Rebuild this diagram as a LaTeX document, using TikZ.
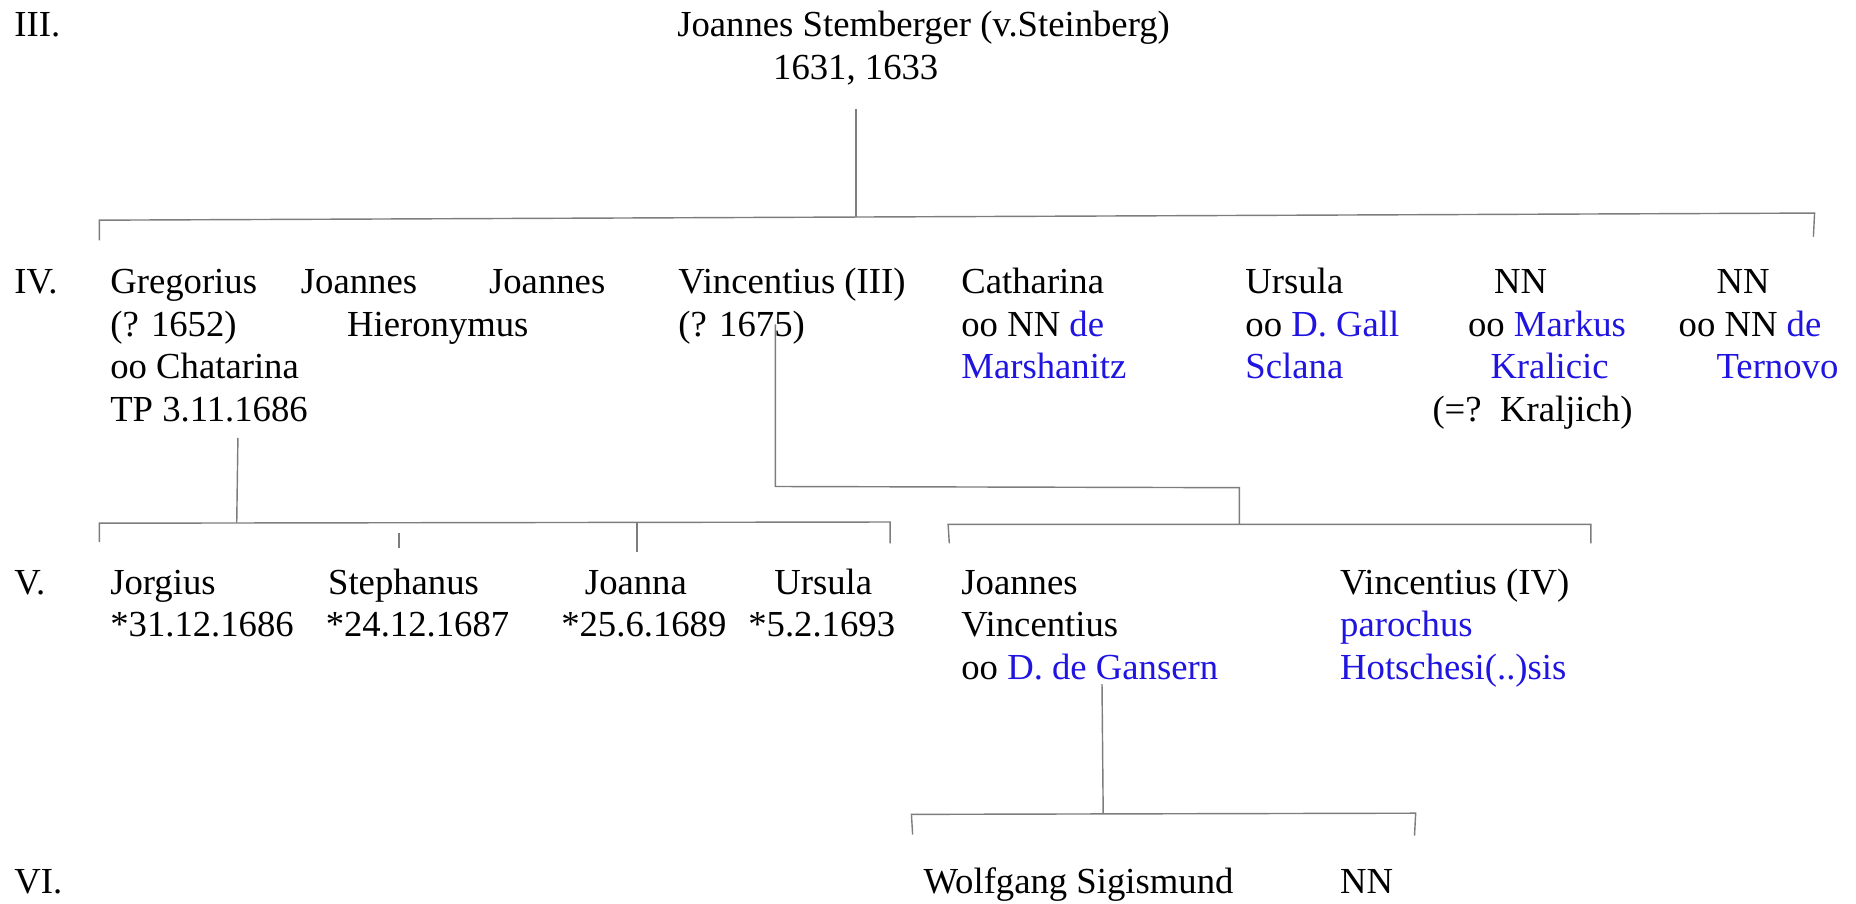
\documentclass[tikz,border=0pt]{standalone}
\usepackage{fontspec}
\setmainfont{Liberation Serif}
\definecolor{lnk}{RGB}{32,20,224}
\definecolor{ln}{RGB}{125,125,125}
\begin{document}
\begin{tikzpicture}[x=1pt,y=-1pt,
  txt/.style={anchor=base west,inner sep=0pt,font=\fontsize{31}{36}\selectfont},
  conn/.style={draw=ln,line width=1.2pt}]
\useasboundingbox (0,0) rectangle (1568,763);
% generation labels
\node[txt] (gIII) at (12,31) {III.};
\node[txt] (gIV) at (12,248) {IV.};
\node[txt] (gV) at (12,502) {V.};
\node[txt] (gVI) at (12,755) {VI.};
% III
\node[txt] (js1) at (572,31) {Joannes Stemberger (v.Steinberg)};
\node[txt] (js2) at (653,67) {1631, 1633};
% IV
\node[txt] (gre1) at (93,248) {Gregorius};
\node[txt] (gre2) at (93,284) {(? 1652)};
\node[txt] (gre3) at (93,320) {oo Chatarina};
\node[txt] (gre4) at (93,356) {TP 3.11.1686};
\node[txt] (jh1) at (254,248) {Joannes};
\node[txt] (jh2) at (293,284) {Hieronymus};
\node[txt] (jo1) at (413,248) {Joannes};
\node[txt] (vin1) at (573,248) {Vincentius (III)};
\node[txt] (vin2) at (573,284) {(? 1675)};
\node[txt] (cat1) at (812,248) {Catharina};
\node[txt] (cat2) at (812,284) {oo NN \textcolor{lnk}{de}};
\node[txt] (cat3) at (812,320) {\textcolor{lnk}{Marshanitz}};
\node[txt] (urs1) at (1052,248) {Ursula};
\node[txt] (urs2) at (1052,284) {oo \textcolor{lnk}{D. Gall}};
\node[txt] (urs3) at (1052,320) {\textcolor{lnk}{Sclana}};
\node[txt] (nna1) at (1262,248) {NN};
\node[txt] (nna2) at (1240,284) {oo \textcolor{lnk}{Markus}};
\node[txt] (nna3) at (1259,320) {\textcolor{lnk}{Kralicic}};
\node[txt] (nna4) at (1210,356) {(=?\ \ Kraljich)};
\node[txt] (nnb1) at (1450,248) {NN};
\node[txt] (nnb2) at (1418,284) {oo NN \textcolor{lnk}{de}};
\node[txt] (nnb3) at (1450,320) {\textcolor{lnk}{Ternovo}};
% V
\node[txt] (jor1) at (93,502) {Jorgius};
\node[txt] (jor2) at (93,538) {*31.12.1686};
\node[txt] (ste1) at (277,502) {Stephanus};
\node[txt] (ste2) at (275,538) {*24.12.1687};
\node[txt] (joa1) at (494,502) {Joanna};
\node[txt] (joa2) at (474,538) {*25.6.1689};
\node[txt] (ur1) at (654,502) {Ursula};
\node[txt] (ur2) at (632,538) {*5.2.1693};
\node[txt] (jv1) at (812,502) {Joannes};
\node[txt] (jv2) at (812,538) {Vincentius};
\node[txt] (jv3) at (812,574) {oo \textcolor{lnk}{D. de Gansern}};
\node[txt] (v41) at (1132,502) {Vincentius (IV)};
\node[txt] (v42) at (1132,538) {\textcolor{lnk}{parochus}};
\node[txt] (v43) at (1132,574) {\textcolor{lnk}{Hotschesi(..)sis}};
% VI
\node[txt] (wol) at (780,755) {Wolfgang Sigismund};
\node[txt] (nnc) at (1132,755) {NN};
% connectors III -> IV
\coordinate (jsd) at (723,92);
\coordinate (b4m) at (723,183.4);
\coordinate (b4l) at (84,186);
\coordinate (b4r) at (1533,180);
\coordinate (b4ld) at (84,203);
\coordinate (b4rd) at (1532,200);
\draw[conn] (jsd) -- (b4m);
\draw[conn] (b4ld) -- (b4l) -- (b4r) -- (b4rd);
% Gregorius -> children
\coordinate (grd) at (201,370);
\coordinate (b5m) at (200,441.6);
\coordinate (b5l) at (84,442);
\coordinate (b5r) at (752,441);
\coordinate (b5ld) at (84,458);
\coordinate (b5rd) at (752,459);
\coordinate (ste0) at (337,450);
\coordinate (ste0d) at (337,463);
\coordinate (joa0) at (538,441.3);
\coordinate (joa0d) at (538,466);
\draw[conn] (grd) -- (b5m);
\draw[conn] (b5ld) -- (b5l) -- (b5r) -- (b5rd);
\draw[conn] (ste0) -- (ste0d);
\draw[conn] (joa0) -- (joa0d);
% Vincentius (III) -> children
\coordinate (vid) at (655,274);
\coordinate (vic1) at (655,411);
\coordinate (vic2) at (1047,412);
\coordinate (b6m) at (1047,443);
\coordinate (b6l) at (801,443);
\coordinate (b6r) at (1344,443);
\coordinate (b6ld) at (802,459);
\coordinate (b6rd) at (1344,459);
\draw[conn] (vid) -- (vic1) -- (vic2) -- (b6m);
\draw[conn] (b6ld) -- (b6l) -- (b6r) -- (b6rd);
% Joannes Vincentius -> children
\coordinate (jvd) at (931,578);
\coordinate (b7m) at (932,687.5);
\coordinate (b7l) at (770,688);
\coordinate (b7r) at (1196,687);
\coordinate (b7ld) at (771,705);
\coordinate (b7rd) at (1195,706);
\draw[conn] (jvd) -- (b7m);
\draw[conn] (b7ld) -- (b7l) -- (b7r) -- (b7rd);
\end{tikzpicture}
\end{document}
